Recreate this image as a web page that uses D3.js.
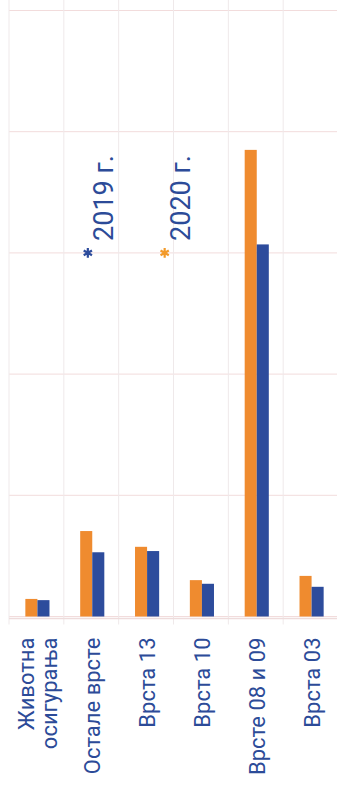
<!DOCTYPE html>
<html>
<head>
<meta charset="utf-8">
<script src="https://cdn.jsdelivr.net/npm/d3@7"></script>
<style>
  body {
    margin: 0;
    background: #ffffff;
  }

  .main {
    display: block;
  }

  .label,
  .legend-label {
    font-family: Roboto, "Open Sans", sans-serif;
    fill: #2c4b98;
  }

  .label {
    font-size: 22px;
  }

  .legend-label {
    font-size: 27px;
  }

  .grid line {
    stroke: #f2dcdc;
    stroke-width: 1;
  }

  .sep line {
    stroke: #efe9ea;
    stroke-width: 1;
  }

  .axis-line {
    stroke: #eedcdc;
    stroke-width: 1.5;
  }
</style>
</head>
<body>
<svg class="main"></svg>
<script>
// Categories (left to right), labels may wrap onto two lines
const categories = ['Животна осигурања', 'Остале врсте', 'Врста 13', 'Врста 10', 'Врсте 08 и 09', 'Врста 03'];
const categoryLines = [['Животна', 'осигурања'], ['Остале врсте'], ['Врста 13'], ['Врста 10'], ['Врсте 08 и 09'], ['Врста 03']];

// Series, drawn in this order inside each group
const seriesNames = ['2020 г.', '2019 г.'];
const seriesColors = ['#ef8b2f', '#2d4c9c'];

// Values (in gridline units)
const values2020 = [0.145, 0.705, 0.575, 0.30, 3.85, 0.335];
const values2019 = [0.135, 0.53, 0.54, 0.27, 3.07, 0.245];

// Gridline ticks
const gridTicks = [0, 1, 2, 3, 4, 5];

// Legend order (as shown, left to right)
const legendNames = ['2019 г.', '2020 г.'];
const legendColors = ['#2d4c9c', '#f29a2a'];

const width = 337;
const height = 789;

const margin = {
  top: 10.5,
  bottom: 172.5,
  left: 9,
  right: -1,
};

const svg = d3.select('.main')
  .attr('width', width)
  .attr('height', height)
  .attr('viewBox', `0 0 ${width} ${height}`);

const x0 = d3.scaleBand()
  .domain(categories)
  .range([margin.left, width - margin.right])
  .paddingInner(0)
  .paddingOuter(0);

const groupWidth = x0.bandwidth() * 0.44;
const x1 = d3.scaleBand()
  .domain(seriesNames)
  .range([0, groupWidth]);

const y = d3.scaleLinear()
  .domain([0, 5])
  .range([height - margin.bottom, margin.top]);

// Gridlines
svg.append('g')
  .classed('grid', true)
  .selectAll('line')
  .data(gridTicks)
  .join('line')
  .attr('x1', margin.left)
  .attr('x2', width)
  .attr('y1', (d) => { return y(d); })
  .attr('y2', (d) => { return y(d); });

// Category separators (full height, with a short tick under the axis)
const sepX = categories.map((c) => { return x0(c); }).concat([x0(categories[categories.length - 1]) + x0.bandwidth()]);
svg.append('g')
  .classed('sep', true)
  .selectAll('line')
  .data(sepX)
  .join('line')
  .attr('x1', (d) => { return d; })
  .attr('x2', (d) => { return d; })
  .attr('y1', 0)
  .attr('y2', y(0) + 8);

svg.append('line')
  .classed('axis-line', true)
  .attr('x1', margin.left)
  .attr('x2', width)
  .attr('y1', y(0) + 2)
  .attr('y2', y(0) + 2);

// Bars
const rows = categories.map((c, i) => {
  return {
    category: c,
    values: [
      {name: seriesNames[0], value: values2020[i], color: seriesColors[0]},
      {name: seriesNames[1], value: values2019[i], color: seriesColors[1]},
    ],
  };
});

svg.append('g')
  .classed('bars', true)
  .selectAll('g')
  .data(rows)
  .join('g')
  .attr('transform', (d) => { return `translate(${x0(d.category) + (x0.bandwidth() - groupWidth) / 2 + 1}, 0)`; })
  .selectAll('rect')
  .data((d) => { return d.values; })
  .join('rect')
  .attr('x', (d) => { return x1(d.name); })
  .attr('width', x1.bandwidth())
  .attr('y', (d) => { return y(d.value); })
  .attr('height', (d) => { return y(0) - y(d.value); })
  .attr('fill', (d) => { return d.color; });

// Category labels, rotated to read bottom to top
const labelTop = y(0) + 21;
const lineGap = 23;
const labels = svg.append('g')
  .classed('labels', true)
  .selectAll('text')
  .data(categories.map((c, i) => { return {category: c, lines: categoryLines[i]}; }))
  .join('text')
  .classed('label', true)
  .attr('text-anchor', 'end')
  .attr('transform', (d) => {
    const cx = x0(d.category) + x0.bandwidth() / 2 + 1;
    return `translate(${cx}, ${labelTop}) rotate(-90)`;
  });

labels.selectAll('tspan')
  .data((d) => {
    return d.lines.map((line, j) => { return {line: line, offset: (j - (d.lines.length - 1) / 2) * lineGap}; });
  })
  .join('tspan')
  .attr('x', 0)
  .attr('y', (d) => { return d.offset; })
  .attr('dy', '0.36em')
  .text((d) => { return d.line; });

// Legend
const legendX = d3.scalePoint()
  .domain(legendNames)
  .range([x0(categories[1]) + 24, x0(categories[2]) + 46]);
const legendY = y(3);

const legend = svg.append('g')
  .classed('legend', true)
  .selectAll('g')
  .data(legendNames.map((n, i) => { return {name: n, color: legendColors[i]}; }))
  .join('g')
  .attr('transform', (d) => { return `translate(${legendX(d.name)}, ${legendY})`; });

legend.append('path')
  .attr('d', d3.symbol(d3.symbolAsterisk, 64))
  .attr('fill', 'none')
  .attr('stroke', (d) => { return d.color; })
  .attr('stroke-width', 2.2);

legend.append('text')
  .classed('legend-label', true)
  .attr('text-anchor', 'start')
  .attr('transform', 'translate(25, -12) rotate(-90)')
  .text((d) => { return d.name; });
</script>
</body>
</html>
